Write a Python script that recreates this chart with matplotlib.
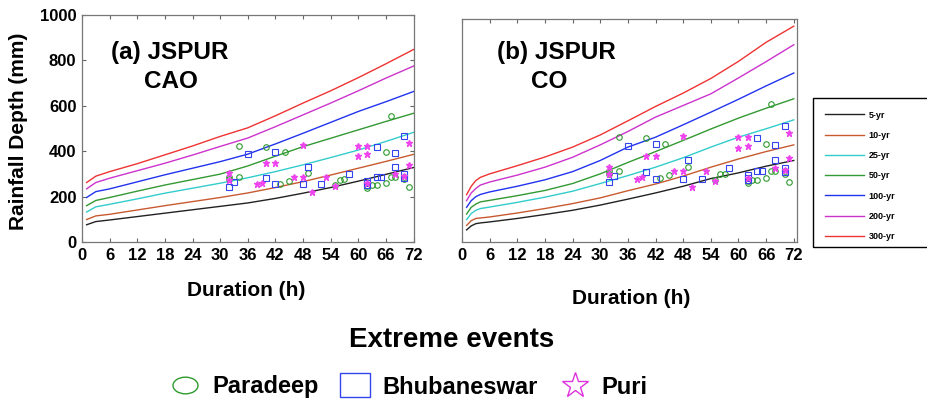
import matplotlib
matplotlib.use("Agg")
import matplotlib.pyplot as plt
from matplotlib.lines import Line2D
from matplotlib.markers import MarkerStyle
from matplotlib.patches import Rectangle
from matplotlib.transforms import Affine2D

plt.rcParams["font.family"] = ["Liberation Sans", "DejaVu Sans"]
plt.rcParams["font.weight"] = "bold"

periods = ["5-yr", "10-yr", "25-yr", "50-yr", "100-yr", "200-yr", "300-yr"]
colors = ["#222222", "#c85a30", "#33cccc", "#339933", "#2233ee", "#cc33cc", "#ee3333"]

# (a) JSPUR CAO depth-duration curves
dur_a = [1, 3, 6, 12, 18, 24, 30, 36, 42, 48, 54, 60, 66, 72]
cao_5yr = [76, 90, 97, 112, 127, 142, 157, 172, 192, 215, 240, 268, 298, 328]
cao_10yr = [99, 115, 122, 141, 160, 178, 196, 216, 240, 266, 295, 325, 355, 386]
cao_25yr = [132, 155, 166, 190, 215, 237, 259, 283, 310, 340, 372, 405, 443, 483]
cao_50yr = [160, 183, 196, 224, 251, 275, 299, 335, 378, 420, 457, 494, 531, 567]
cao_100yr = [196, 222, 234, 265, 296, 325, 354, 387, 432, 479, 527, 575, 618, 663]
cao_200yr = [234, 262, 281, 314, 347, 383, 421, 458, 508, 560, 612, 666, 722, 775]
cao_300yr = [262, 290, 310, 345, 384, 423, 465, 503, 556, 612, 666, 724, 785, 848]

# (b) JSPUR CO depth-duration curves
dur_b = [1, 2, 3, 4, 6, 12, 18, 24, 30, 36, 42, 48, 54, 60, 66, 72]
co_5yr = [49, 65, 74, 77, 81, 95, 111, 128, 149, 173, 198, 225, 256, 279, 306, 329]
co_10yr = [67, 86, 95, 97, 101, 117, 135, 155, 178, 207, 234, 266, 302, 335, 365, 392]
co_25yr = [90, 115, 128, 135, 141, 160, 181, 205, 236, 268, 302, 340, 383, 423, 457, 493]
co_50yr = [113, 140, 153, 162, 168, 187, 208, 236, 275, 321, 365, 410, 456, 500, 540, 578]
co_100yr = [140, 167, 183, 192, 202, 225, 251, 284, 329, 383, 423, 473, 524, 576, 630, 682]
co_200yr = [167, 198, 216, 230, 242, 270, 302, 342, 392, 446, 504, 551, 598, 662, 728, 796]
co_300yr = [191, 225, 248, 261, 275, 308, 343, 383, 432, 489, 547, 601, 660, 729, 806, 871]

# observed extreme events
paradeep_dur = [34, 40, 44, 32, 34, 32, 43, 45, 49, 55, 56, 57, 62, 63, 64, 66, 66,
                67, 67, 68, 70, 70, 71, 62]
paradeep_depth = [425, 420, 396, 288, 288, 276, 257, 269, 303, 250, 275, 276, 237, 249,
                  249, 396, 259, 557, 288, 288, 276, 288, 244, 245]
bbsr_dur = [36, 32, 33, 40, 42, 42, 49, 48, 52, 58, 62, 62, 62, 64, 64, 65, 68, 68,
            70, 70, 70]
bbsr_depth = [387, 244, 266, 284, 397, 254, 329, 254, 254, 300, 269, 258, 250, 420,
              288, 288, 391, 329, 469, 300, 282]
puri_dur = [32, 32, 38, 39, 40, 42, 46, 48, 48, 50, 53, 55, 60, 60, 62, 62, 62, 68,
            71, 71, 70]
puri_depth = [303, 274, 254, 261, 347, 347, 288, 288, 426, 222, 285, 247, 423, 379,
              423, 388, 259, 300, 438, 338, 290]

W, H = 927, 404
fig = plt.figure(figsize=(W / 100, H / 100), dpi=100)


def fx(px):
    return px / W


def fy(py):
    return 1 - py / H


ax_a = fig.add_axes([fx(82), fy(242), (414 - 82) / W, (242 - 15) / H])
ax_b = fig.add_axes([fx(462), fy(242), (797 - 462) / W, (242 - 19) / H])

panels = [
    (ax_a, dur_a, [cao_5yr, cao_10yr, cao_25yr, cao_50yr, cao_100yr, cao_200yr, cao_300yr], 1000, 72.1),
    (ax_b, dur_b, [co_5yr, co_10yr, co_25yr, co_50yr, co_100yr, co_200yr, co_300yr], 900, 72.7),
]

for ax, dur, curves, ymax, xmax in panels:
    for vals, c, lab in zip(curves, colors, periods):
        ax.plot(dur, vals, color=c, lw=1.0, label=lab)
    ax.plot(paradeep_dur, paradeep_depth, ls="none", marker="o", ms=4, mfc="none",
            mec="#2e9a2e", mew=0.8)
    ax.plot(bbsr_dur, bbsr_depth, ls="none", marker="s", ms=4.5, mfc="none",
            mec="#3344ee", mew=0.8)
    ax.plot(puri_dur, puri_depth, ls="none", marker="*", ms=4.5, color="#ee44ee")
    ax.set_xlim(0, xmax)
    ax.set_ylim(0, ymax)
    ax.set_xticks(range(0, 73, 6))
    ax.tick_params(direction="in", top=True, right=True, length=3, labelsize=12,
                   color="#666666", pad=4)
    for s in ax.spines.values():
        s.set_color("#777777")
        s.set_linewidth(0.9)

ax_a.set_yticks(range(0, 1001, 200))
ax_b.set_yticks([])

fig.text(fx(111), fy(53), "(a) JSPUR", fontsize=17.5, va="center", ha="left")
fig.text(fx(144), fy(82), "CAO", fontsize=17.5, va="center", ha="left")
fig.text(fx(497), fy(53), "(b) JSPUR", fontsize=17.5, va="center", ha="left")
fig.text(fx(531), fy(82), "CO", fontsize=17.5, va="center", ha="left")

fig.text(fx(19), fy(131), "Rainfall Depth (mm)", fontsize=15, rotation=90,
         ha="center", va="center")
fig.text(fx(246), fy(291), "Duration (h)", fontsize=15, ha="center", va="center")
fig.text(fx(631), fy(298), "Duration (h)", fontsize=15, ha="center", va="center")
fig.text(fx(452), fy(340), "Extreme events", fontsize=20, ha="center", va="center")

# return-period legend (box runs off the right edge as in the original)
handles, labels = ax_a.get_legend_handles_labels()
fig.legend(handles, labels, loc="upper left", bbox_to_anchor=(fx(820), fy(106)),
           frameon=False, fontsize=6.5, borderpad=0, labelspacing=1.25,
           handlelength=4.4, handletextpad=0.5)
fig.add_artist(Rectangle((fx(813), fy(247)), (940 - 813) / W, (247 - 98) / H,
                         transform=fig.transFigure, fill=False, ec="black", lw=1,
                         clip_on=False))

# extreme events legend
ev_handles = [
    Line2D([], [], ls="none", marker=MarkerStyle("o", transform=Affine2D().scale(1.5, 1)),
           ms=12, mfc="none", mec="#2e9a2e", mew=1),
    Line2D([], [], ls="none", marker=MarkerStyle("s", transform=Affine2D().scale(1.25, 1)),
           ms=17, mfc="none", mec="#3344ee", mew=1),
    Line2D([], [], ls="none", marker="*", ms=19, mfc="none", mec="#dd33dd", mew=1),
]
fig.legend(ev_handles, ["Paradeep", "Bhubaneswar", "Puri"], loc="center",
           bbox_to_anchor=(fx(407), fy(387)), ncol=3, frameon=False, fontsize=17,
           handlelength=1.6, handletextpad=0.34, columnspacing=0.77)

fig.savefig("out.png", dpi=100)
